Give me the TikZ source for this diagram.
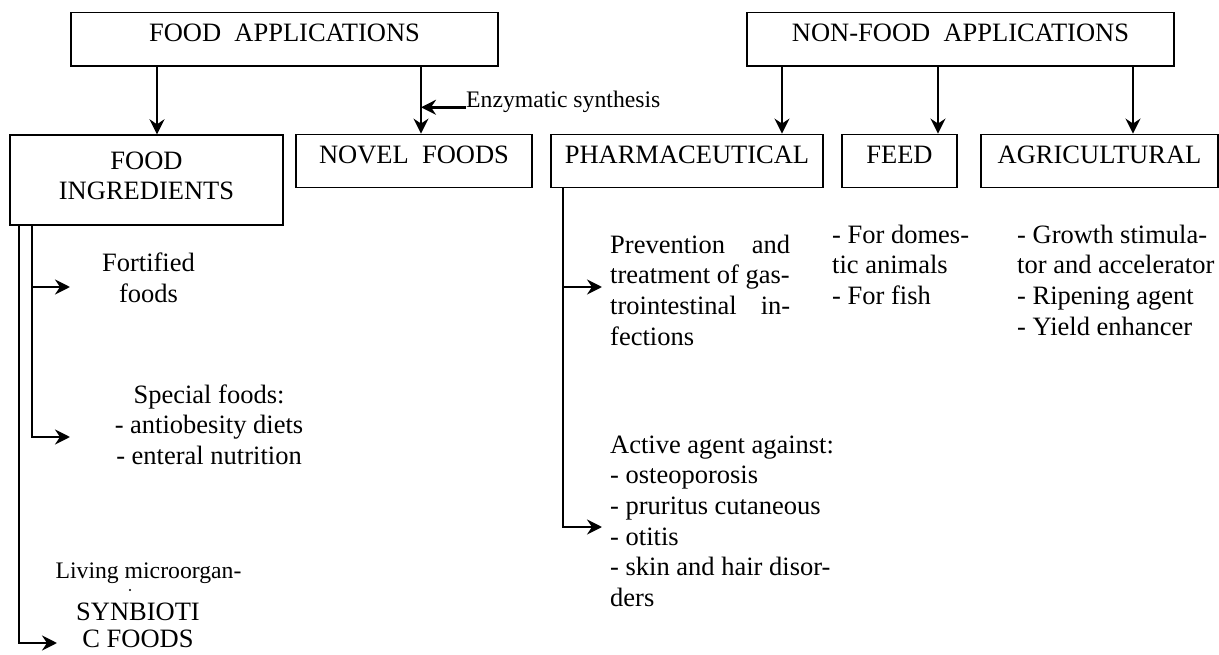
\documentclass[tikz,border=0pt]{standalone}
\usepackage{fontspec}
\setmainfont{Liberation Serif}
\usetikzlibrary{arrows.meta}

\begin{document}
\begin{tikzpicture}[x=1pt,y=-1pt,
	box/.style={draw, line width=1.4pt, inner sep=0pt, text height=29pt, text depth=24.5pt, anchor=base, font=\fontsize{26.5}{30}\selectfont},
	txt/.style={inner sep=0pt, font=\fontsize{26.5}{30.6}\selectfont},
	smalltxt/.style={inner sep=0pt, font=\fontsize{23.7}{27}\selectfont},
	arr/.style={line width=2.6pt, -{Stealth[length=15pt,width=15pt,inset=5pt]}}]
	\useasboundingbox (0,0) rectangle (1219,655);
	\node[box, minimum width=427pt] (foodapp) at (284.5,41.7) {FOOD~~APPLICATIONS};
	\node[box, minimum width=427pt] (nonfood) at (960.5,41.7) {NON-FOOD~~APPLICATIONS};
	\node[box, minimum width=273pt, text height=35pt, text depth=55pt] (ingr) at (146.5,170) {\parbox[t]{273pt}{\centering FOOD\\INGREDIENTS}};
	\node[box, minimum width=236pt] (novel) at (414,163.3) {NOVEL~~FOODS};
	\node[box, minimum width=272pt] (pharma) at (687,163.3) {PHARMACEUTICAL};
	\node[box, minimum width=115pt] (feed) at (899.5,163.3) {FEED};
	\node[box, minimum width=237pt] (agri) at (1099.5,163.3) {AGRICULTURAL};
	\draw[arr] (foodapp.south -| 157,0) -- (ingr.north -| 157,0);
	\draw[arr] (foodapp.south -| 421,0) -- (novel.north -| 421,0);
	\draw[arr] (nonfood.south -| 782,0) -- (pharma.north -| 782,0);
	\draw[arr] (nonfood.south -| 938,0) -- (feed.north -| 938,0);
	\draw[arr] (nonfood.south -| 1133,0) -- (agri.north -| 1133,0);
	\node[smalltxt, anchor=base west] (enz) at (466,107.3) {Enzymatic synthesis};
	\draw[arr] (enz.base west) -- (enz.base west -| 421,0);
	\node[txt, anchor=base] (fort) at (148.5,271.7) {\parbox[t]{150pt}{\centering Fortified\\foods}};
	\node[txt, anchor=base] (special) at (209,403) {\parbox[t]{230pt}{\centering Special foods:\\- antiobesity diets\\- enteral nutrition}};
	\node[smalltxt, anchor=base] (living) at (148.5,578) {Living microorgan-};
	\fill (130,590) circle (1.2pt);
	\node[txt, anchor=base] (synb) at (138,620.5) {SYNBIOTI};
	\node[txt, anchor=base] (cfoods) at (138,647.5) {C FOODS};
	\coordinate (fortin) at (70,287);
	\coordinate (specin) at (70,437);
	\coordinate (synbin) at (57,643);
	\draw[arr] (ingr.south -| 32,0) |- (specin);
	\draw[arr] (fortin -| 32,0) -- (fortin);
	\draw[arr] (ingr.south -| 19,0) |- (synbin);
	\node[txt, anchor=base west] (prev) at (610,253.3) {\parbox[t]{180pt}{\makebox[180pt][s]{Prevention and}\\treatment of gas-\\\makebox[180pt][s]{trointestinal in-}\\fections}};
	\node[txt, anchor=base west] (active) at (610,453.3) {\parbox[t]{260pt}{Active agent against:\\- osteoporosis\\- pruritus cutaneous\\- otitis\\- skin and hair disor-\\ders}};
	\coordinate (previn) at (602,287);
	\coordinate (actin) at (602,527);
	\draw[arr] (pharma.south -| 563,0) |- (actin);
	\draw[arr] (previn -| 563,0) -- (previn);
	\node[txt, anchor=base west] (feedtxt) at (832,243.3) {\parbox[t]{170pt}{- For domes-\\tic animals\\- For fish}};
	\node[txt, anchor=base west] (agritxt) at (1017,243.3) {\parbox[t]{202pt}{- Growth stimula-\\tor and accelerator\\- Ripening agent\\- Yield enhancer}};
\end{tikzpicture}
\end{document}
